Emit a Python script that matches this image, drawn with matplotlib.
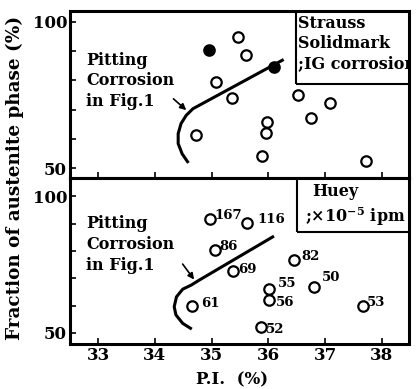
import matplotlib
matplotlib.use("Agg")
import matplotlib.pyplot as plt
from matplotlib.patches import Rectangle

plt.rcParams['font.family'] = ['DejaVu Serif']
plt.rcParams['font.weight'] = 'bold'
plt.rcParams['mathtext.fontset'] = 'dejavuserif'
plt.rcParams['mathtext.default'] = 'bf'

# Strauss test (upper panel): P.I. vs austenite fraction
strauss_open_pi = [35.47, 35.61, 35.08, 35.36, 34.72, 35.98, 35.96, 35.88, 36.52, 36.76, 37.08, 37.72]
strauss_open_aus = [94.8, 88.5, 79.5, 74.1, 61.5, 65.9, 61.9, 54.3, 75.0, 67.0, 72.2, 52.5]
strauss_ig_pi = [34.95, 36.10]
strauss_ig_aus = [90.5, 84.5]

# Huey test (lower panel), corrosion rate x1e-5 ipm
huey_pi = [34.98, 35.62, 35.06, 35.38, 36.46, 36.01, 36.01, 36.81, 34.65, 37.67, 35.87]
huey_aus = [91.6, 90.1, 80.5, 72.6, 76.8, 65.9, 62.0, 66.9, 59.9, 59.9, 52.1]
huey_rate = ['167', '116', '86', '69', '82', '55', '56', '50', '61', '53', '52']
# label offsets in pixels (dx, dy)
huey_offsets = [(4, 4), (11, 4), (4, 3), (5, 2), (7, 3), (9, 6), (7, -2), (8, 9), (9, 2), (4, 3), (5, -2)]

# pitting corrosion boundary from Fig.1
pit_top_pi = [34.59, 34.48, 34.41, 34.41, 34.46, 34.55, 34.67, 36.27]
pit_top_aus = [51.8, 54.9, 58.4, 61.8, 65.2, 68.0, 70.3, 87.1]
pit_bot_pi = [34.65, 34.49, 34.37, 34.34, 34.38, 34.49, 34.64, 34.78, 36.10]
pit_bot_aus = [51.4, 53.5, 56.6, 59.6, 63.2, 66.0, 67.5, 69.3, 85.4]

xticks = [33, 34, 35, 36, 37, 38]

fig = plt.figure(figsize=(4.16, 3.89), dpi=100)
ax1 = fig.add_axes([0.168, 0.542, 0.815, 0.430])
ax2 = fig.add_axes([0.168, 0.116, 0.815, 0.426])


def style(ax, ylim):
    ax.set_xlim(32.5, 38.48)
    ax.set_ylim(*ylim)
    ax.set_xticks(xticks)
    ax.set_yticks([50, 100])
    ax.set_yticks([60, 70, 80, 90], minor=True)
    ax.tick_params(which='both', direction='in', length=4, width=1.2,
                   labelsize=12, pad=2, top=False, right=False)
    for s in ax.spines.values():
        s.set_linewidth(2.2)


style(ax1, (46.6, 103.7))
style(ax2, (46.0, 106.6))
ax1.set_xticklabels([])

mk = dict(marker='o', ms=7.5, mew=1.6, mec='black', ls='none')
ax1.plot(strauss_open_pi, strauss_open_aus, mfc='white', **mk)
ax1.plot(strauss_ig_pi, strauss_ig_aus, mfc='black', **mk)
ax1.plot(pit_top_pi, pit_top_aus, color='black', lw=2.2, solid_capstyle='butt')

ax2.plot(huey_pi, huey_aus, mfc='white', **mk)
ax2.plot(pit_bot_pi, pit_bot_aus, color='black', lw=2.2, solid_capstyle='butt')
for x, y, t, (dx, dy) in zip(huey_pi, huey_aus, huey_rate, huey_offsets):
    ax2.annotate(t, (x, y), xytext=(dx * 0.72, dy * 0.72), textcoords='offset points',
                 fontsize=9.5, va='center', ha='left')

txt = 'Pitting\nCorrosion\nin Fig.1'
ax1.text(32.79, 79.8, txt, fontsize=11.5, va='center', ha='left', linespacing=1.3)
ax2.text(32.79, 82.2, txt, fontsize=11.5, va='center', ha='left', linespacing=1.3)
arr = dict(arrowstyle='-|>', color='black', lw=1.2, mutation_scale=9)
ax1.annotate('', xy=(34.59, 69.2), xytext=(34.29, 74.3), arrowprops=arr)
ax2.annotate('', xy=(34.72, 68.7), xytext=(34.46, 76.0), arrowprops=arr)

# legend boxes
ax1.add_patch(Rectangle((0.666, 0.563), 0.5, 0.5, transform=ax1.transAxes,
                        fill=False, lw=1.5, clip_on=True))
t1 = ax1.text(0.674, 0.975, 'Strauss\nSolidmark\n;IG corrosion', transform=ax1.transAxes,
              fontsize=11.5, va='top', ha='left', linespacing=1.25)
t1.set_clip_on(True)
t1.set_clip_path(ax1.patch)

ax2.add_patch(Rectangle((0.669, 0.677), 0.5, 0.5, transform=ax2.transAxes,
                        fill=False, lw=1.5, clip_on=True))
ax2.text(0.782, 0.917, 'Huey', transform=ax2.transAxes, fontsize=11.5, va='center', ha='center')
ax2.text(0.693, 0.767, r';×10$^{-5}$ ipm', transform=ax2.transAxes, fontsize=11.5,
         va='center', ha='left')

fig.text(0.036, 0.542, 'Fraction of austenite phase (%)', rotation=90,
         fontsize=13.2, va='center', ha='center')
fig.text(0.557, 0.023, 'P.I.  (%)', fontsize=12, va='center', ha='center')

fig.savefig('out.png', dpi=100)
